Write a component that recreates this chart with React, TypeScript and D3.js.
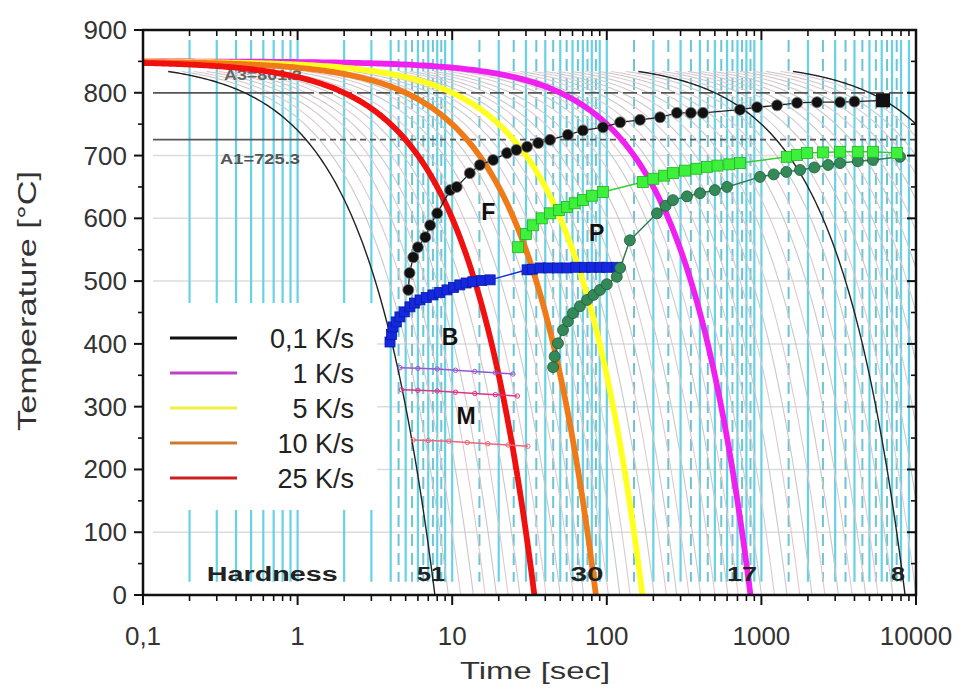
import React from 'react';
import * as d3 from 'd3';

// ---------- axis data ----------
const xTickValues = [0.1, 1, 10, 100, 1000, 10000];
const xTickLabels = ['0,1', '1', '10', '100', '1000', '10000'];
const yTickValues = [0, 100, 200, 300, 400, 500, 600, 700, 800, 900];
const gridTemps = [100, 200, 300, 400, 500, 600, 700];

// ---------- cooling curves ----------
const startTemp = 850;
const legendLabels = ['0,1 K/s', '1 K/s', '5 K/s', '10 K/s', '25 K/s'];
const legendColors = ['#111111', '#c040c8', '#f0f040', '#d07a30', '#cc2020'];
const thickRates = [1, 5, 10, 25];
const thickColors = ['#f020f0', '#ffff20', '#f07a18', '#f01010'];
const thinBlackRates = [110, 0.1, 0.01];
const grayRates = [90, 75, 62, 52, 44, 37, 31, 21, 17, 14, 12, 8.3, 7, 6, 4.2, 3.5, 3, 2.5, 2.1, 1.7, 1.4, 1.2,
  0.85, 0.7, 0.58, 0.48, 0.4, 0.33, 0.27, 0.22, 0.18, 0.15, 0.12, 0.085, 0.07, 0.058, 0.048, 0.04, 0.033, 0.027, 0.022, 0.018, 0.015, 0.012];

// ---------- vertical cyan lines ----------
const cyanSolid = [0.2, 0.3, 0.4, 0.5, 0.6, 0.7, 0.8, 0.9, 1, 2, 3, 4, 5, 6, 7, 8, 9, 10, 20, 30, 40, 50, 60, 70, 80, 90, 100,
  200, 300, 400, 500, 600, 700, 800, 900, 1000, 2000, 3000, 4000, 5000, 6000, 7000, 8000, 9000];
const cyanDashed = [4.5, 5.5, 6.5, 7.5, 8.5, 15, 25, 35, 45, 55, 65, 75, 85, 150, 250, 350, 450, 550, 650, 750, 850,
  1500, 2500, 3500, 4500, 5500, 6500, 7500];

// ---------- transformation data ----------
const ferriteTime = [5.2, 5.3, 5.6, 6.0, 6.7, 7.2, 8.0, 9.7, 10.7, 13, 15.1, 18.4, 22.6, 26, 30.5, 36, 42.9, 56, 70, 94.5, 122, 164, 221, 284, 350, 419, 727, 937, 1262, 1700, 2290, 3225, 4000];
const ferriteTemp = [486, 513, 538, 554, 570, 589, 608, 645, 650, 672, 685, 693, 704, 709, 714, 720, 725, 733, 740, 745, 753, 757, 761, 768, 768, 768, 773, 777, 780, 784, 785, 785, 786];
const ferriteEndTime = [6120];
const ferriteEndTemp = [788];

const pearliteTime = [26.7, 30, 33.3, 38, 42.9, 49, 55.3, 62, 70.2, 80, 94.5, 171, 200, 235, 268, 320, 380, 445, 520, 620, 727, 1465, 1700, 1972, 2500, 3225, 4200, 5270, 7540];
const pearliteTemp = [554, 575, 589, 600, 608, 613, 618, 624, 629, 636, 642, 658, 663, 668, 672, 676, 679, 682, 684, 686, 688, 698, 701, 704, 705, 706, 706, 706, 704];

const pearlEndTime = [44.9, 46, 48.3, 52.1, 56, 60.4, 67, 74.5, 82, 90.4, 100, 116, 122, 141, 211, 240, 268, 330, 401, 500, 599, 979, 1200, 1450, 1778, 2200, 2700, 3225, 4200, 5270, 7880];
const pearlEndTemp = [363, 380, 401, 422, 436, 449, 460, 470, 478, 486, 495, 507, 521, 565, 608, 620, 629, 635, 640, 645, 650, 666, 670, 674, 677, 681, 685, 688, 691, 693, 698];

const bainiteTime = [3.96, 4.05, 4.14, 4.35, 4.59, 4.9, 5.33, 5.7, 6.19, 6.8, 7.51, 8.3, 9.25, 10.2, 11.2, 12.3, 13.6, 15.5, 17.6, 30.5, 33, 37, 42, 48, 55.3, 63, 72, 80, 90.4, 100, 116];
const bainiteTemp = [403, 415, 427, 435, 443, 451, 459, 465, 470, 474, 478, 482, 486, 490, 494, 497, 499, 501, 502, 518, 519, 521, 521, 521, 521, 522, 522, 522, 522, 522, 522];

const ms1Time = [4.6, 6, 8, 10.5, 14, 19, 24.7];
const ms1Temp = [362, 361, 360, 358, 356, 354, 352];
const ms2Time = [4.7, 6, 8, 10.5, 14, 19, 26.4];
const ms2Temp = [327, 326, 325, 323, 321, 319, 317];
const ms3Time = [5.6, 7, 9.5, 12.5, 17, 23, 30.9];
const ms3Temp = [247, 246, 245, 243, 241, 239, 237];
const msColors = ['#9955cc', '#dd3388', '#ee6677'];

// ---------- critical temperatures ----------
const a3Temp = 800;
const a3Label = 'A3=801.2';
const a1Temp = 725.3;
const a1Label = 'A1=725.3';

// ---------- phase labels & hardness ----------
const phaseLabels = ['F', 'P', 'B', 'M'];
const phaseTime = [17.1, 86, 9.7, 12.3];
const phaseTemp = [610, 577, 411, 285];
const hardnessTitle = 'Hardness';
const hardnessTitleTime = 0.68;
const hardnessLabels = ['51', '30', '17', '8'];
const hardnessTime = [7.3, 74.5, 750, 7650];
const hardnessWidths = [28, 33, 30, 14];
const hardnessTemp = 35;

const W = 965;
const H = 689;
const FONT = 'Liberation Sans, Arial, sans-serif';

const x = d3.scaleLog().domain([0.1, 10000]).range([143, 916]);
const y = d3.scaleLinear().domain([0, 900]).range([595, 30]);

function coolingPath(rate: number, tStart: number): string {
  const tEnd = Math.min(startTemp / rate, 10000);
  const l0 = Math.log10(tStart);
  const l1 = Math.log10(tEnd);
  const pts = d3.range(0, 161).map((i) => {
    const t = Math.pow(10, l0 + ((l1 - l0) * i) / 160);
    return [t, Math.max(0, startTemp - rate * t)] as [number, number];
  });
  return d3.line<[number, number]>().x((d) => x(d[0])).y((d) => y(d[1]))(pts) || '';
}

function seriesPath(ts: number[], vs: number[]): string {
  return d3.line<number>().x((_, i) => x(ts[i])).y((_, i) => y(vs[i]))(ts) || '';
}

export default function App() {
  const minorX: number[] = [];
  [0.1, 1, 10, 100, 1000].forEach((d) => {
    for (let k = 2; k <= 9; k++) minorX.push(d * k);
  });
  const minorY = d3.range(50, 900, 100);
  const xl = 143, xr = 916, yb = 595, yt = 30;
  const cyTop = y(884), cyBot = y(21);
  const legendX = 145, legendY = 303, legendW = 232, legendH = 207;
  const drop = 16;

  return (
    <svg width={W} height={H} style={{ position: 'absolute', left: 0, top: 0, background: '#fff' }} fontFamily={FONT}>
      <rect x={0} y={0} width={W} height={H} fill="#fff" />
      {/* horizontal gridlines */}
      {gridTemps.map((t) => (
        <line key={'g' + t} x1={xl + 10} x2={xr} y1={y(t)} y2={y(t)} stroke="#dcdcdc" strokeWidth={1.5} />
      ))}
      {/* cyan verticals */}
      {cyanSolid.map((t) => (
        <line key={'cs' + t} x1={x(t)} x2={x(t)} y1={cyTop} y2={cyBot} stroke="#66d2e4" strokeWidth={2.2} />
      ))}
      {cyanDashed.map((t) => (
        <line key={'cd' + t} x1={x(t)} x2={x(t)} y1={cyTop} y2={cyBot} stroke="#6cc4d4" strokeWidth={2} strokeDasharray="12 7" />
      ))}
      {/* gray family of cooling curves */}
      {grayRates.map((r, i) => (
        <path key={'gr' + r} d={coolingPath(r, drop / r)} fill="none" stroke={i % 2 ? '#e2c8ce' : '#c8c8c8'} strokeWidth={1.1} />
      ))}
      {/* critical temperature lines */}
      <line x1={153} x2={300} y1={y(a3Temp)} y2={y(a3Temp)} stroke="#555" strokeWidth={1.8} />
      <line x1={300} x2={xr} y1={y(a3Temp)} y2={y(a3Temp)} stroke="#555" strokeWidth={1.8} strokeDasharray="14 5" />
      <line x1={153} x2={300} y1={y(a1Temp)} y2={y(a1Temp)} stroke="#555" strokeWidth={1.8} />
      <line x1={300} x2={xr} y1={y(a1Temp)} y2={y(a1Temp)} stroke="#555" strokeWidth={1.8} strokeDasharray="6 4" />
      <text x={224} y={y(a3Temp) - 13} fontSize={15} fontWeight="bold" fill="#666" textLength={78} lengthAdjust="spacingAndGlyphs">{a3Label}</text>
      <text x={220} y={y(a1Temp) + 24} fontSize={15} fontWeight="bold" fill="#555" textLength={80} lengthAdjust="spacingAndGlyphs">{a1Label}</text>
      {/* legend background */}
      <rect x={legendX} y={legendY} width={legendW} height={legendH} fill="#fff" />
      {/* thin black curves */}
      {thinBlackRates.map((r) => (
        <path key={'tb' + r} d={coolingPath(r, drop / r)} fill="none" stroke="#222" strokeWidth={1.4} />
      ))}
      {/* thick colored curves */}
      {thickRates.map((r, i) => (
        <path key={'tk' + r} d={coolingPath(r, 0.1)} fill="none" stroke={thickColors[i]} strokeWidth={5.8} />
      ))}
      {/* martensite lines */}
      {[[ms1Time, ms1Temp], [ms2Time, ms2Temp], [ms3Time, ms3Temp]].map((s, i) => (
        <g key={'ms' + i}>
          <path d={seriesPath(s[0], s[1])} fill="none" stroke={msColors[i]} strokeWidth={1.5} />
          {s[0].map((t, j) => (
            <circle key={j} cx={x(t)} cy={y(s[1][j])} r={2.2} fill="none" stroke={msColors[i]} strokeWidth={1} />
          ))}
        </g>
      ))}
      {/* bainite */}
      <path d={seriesPath(bainiteTime, bainiteTemp)} fill="none" stroke="#1530e0" strokeWidth={1.5} />
      {bainiteTime.map((t, i) => (
        <rect key={'b' + i} x={x(t) - 5} y={y(bainiteTemp[i]) - 5} width={10} height={10} fill="#1428e0" stroke="#0a1aa0" strokeWidth={0.8} />
      ))}
      {/* pearlite finish (dark green) */}
      <path d={seriesPath(pearlEndTime, pearlEndTemp)} fill="none" stroke="#2e7d4f" strokeWidth={1.5} />
      {pearlEndTime.map((t, i) => (
        <circle key={'pe' + i} cx={x(t)} cy={y(pearlEndTemp[i])} r={5.5} fill="#338a58" stroke="#1d5a38" strokeWidth={0.8} />
      ))}
      {/* pearlite start (bright green) */}
      <path d={seriesPath(pearliteTime, pearliteTemp)} fill="none" stroke="#30d030" strokeWidth={1.5} />
      {pearliteTime.map((t, i) => (
        <rect key={'p' + i} x={x(t) - 5.5} y={y(pearliteTemp[i]) - 5.5} width={11} height={11} fill="#3cf03c" stroke="#22b022" strokeWidth={0.8} />
      ))}
      {/* ferrite start (black) */}
      <path d={seriesPath(ferriteTime.concat(ferriteEndTime), ferriteTemp.concat(ferriteEndTemp))} fill="none" stroke="#222" strokeWidth={1.3} />
      {ferriteTime.map((t, i) => (
        <circle key={'f' + i} cx={x(t)} cy={y(ferriteTemp[i])} r={5.5} fill="#111" stroke="#777" strokeWidth={0.8} />
      ))}
      {ferriteEndTime.map((t, i) => (
        <rect key={'fe' + i} x={x(t) - 7} y={y(ferriteEndTemp[i]) - 7} width={14} height={14} fill="#111" />
      ))}
      {/* phase labels */}
      {phaseLabels.map((l, i) => (
        <text key={'pl' + l} x={x(phaseTime[i])} y={y(phaseTemp[i]) + 8} fontSize={23} fontWeight="bold" textAnchor="middle" fill="#111">{l}</text>
      ))}
      {/* hardness */}
      <text x={x(hardnessTitleTime) - 65} y={y(hardnessTemp) + 8} fontSize={20} fontWeight="bold" fill="#222" textLength={131} lengthAdjust="spacingAndGlyphs">{hardnessTitle}</text>
      {hardnessLabels.map((l, i) => (
        <text key={'h' + i} x={x(hardnessTime[i]) - hardnessWidths[i] / 2} y={y(hardnessTemp) + 8} fontSize={20} fontWeight="bold" fill="#222" textLength={hardnessWidths[i]} lengthAdjust="spacingAndGlyphs">{l}</text>
      ))}
      {/* legend */}
      {legendLabels.map((l, i) => (
        <g key={'lg' + i}>
          <line x1={170} x2={237} y1={338 + i * 35} y2={338 + i * 35} stroke={legendColors[i]} strokeWidth={3} />
          <text x={354} y={338 + i * 35 + 10} fontSize={27} textAnchor="end" fill="#222">{l}</text>
        </g>
      ))}
      {/* frame */}
      <rect x={xl} y={yt} width={xr - xl} height={yb - yt} fill="none" stroke="#111" strokeWidth={2.5} />
      {/* x ticks */}
      {xTickValues.map((t) => (
        <g key={'xt' + t}>
          <line x1={x(t)} x2={x(t)} y1={yb} y2={yb + 10} stroke="#111" strokeWidth={2} />
          <line x1={x(t)} x2={x(t)} y1={yt} y2={yt + 10} stroke="#111" strokeWidth={2} />
        </g>
      ))}
      {minorX.map((t) => (
        <g key={'xm' + t}>
          <line x1={x(t)} x2={x(t)} y1={yb} y2={yb + 6} stroke="#111" strokeWidth={1.6} />
          <line x1={x(t)} x2={x(t)} y1={yt} y2={yt + 6} stroke="#111" strokeWidth={1.6} />
        </g>
      ))}
      {xTickValues.map((t, i) => (
        <text key={'xl' + t} x={x(t)} y={645} fontSize={26} textAnchor="middle" fill="#333">{xTickLabels[i]}</text>
      ))}
      {/* y ticks */}
      {yTickValues.map((v) => (
        <g key={'yt' + v}>
          <line x1={xl - 9} x2={xl} y1={y(v)} y2={y(v)} stroke="#111" strokeWidth={2} />
          <line x1={xr - 9} x2={xr} y1={y(v)} y2={y(v)} stroke="#111" strokeWidth={2} />
          <text x={127} y={y(v) + 9} fontSize={26} textAnchor="end" fill="#333">{v}</text>
        </g>
      ))}
      {minorY.map((v) => (
        <g key={'ym' + v}>
          <line x1={xl - 5} x2={xl} y1={y(v)} y2={y(v)} stroke="#111" strokeWidth={1.6} />
          <line x1={xr - 5} x2={xr} y1={y(v)} y2={y(v)} stroke="#111" strokeWidth={1.6} />
        </g>
      ))}
      <text x={460} y={679} fontSize={24} fill="#333" textLength={150} lengthAdjust="spacingAndGlyphs">Time [sec]</text>
      <text transform={`translate(36, 431) rotate(-90)`} fontSize={25} fill="#333" textLength={260} lengthAdjust="spacingAndGlyphs">Temperature [°C]</text>
    </svg>
  );
}
